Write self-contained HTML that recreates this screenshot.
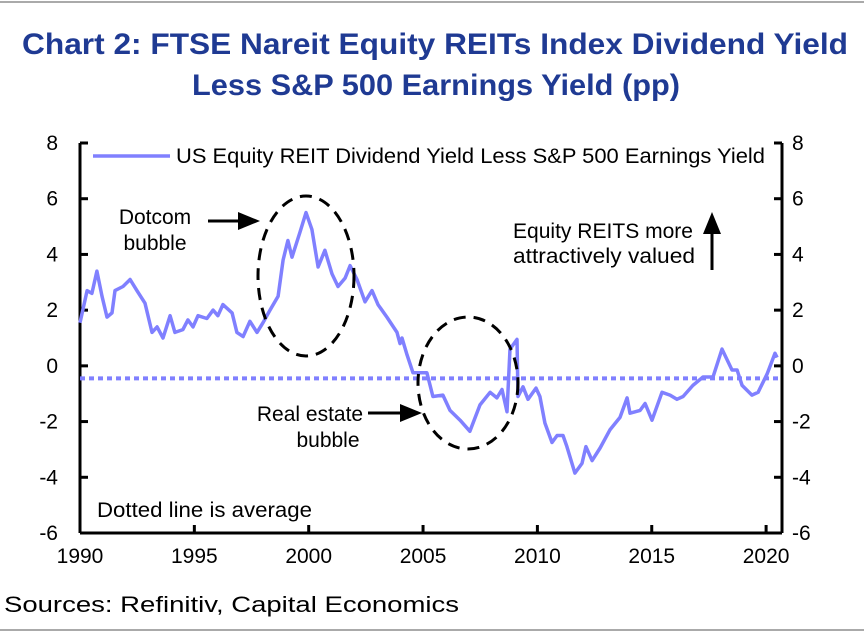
<!DOCTYPE html>
<html><head><meta charset="utf-8"><style>
body{margin:0;background:#fff;width:864px;height:637px;overflow:hidden;font-family:"Liberation Sans",sans-serif}
</style></head><body>
<svg width="864" height="637" xmlns="http://www.w3.org/2000/svg" font-family="Liberation Sans, sans-serif">
<line x1="0" y1="2" x2="864" y2="2" stroke="#aaa" stroke-width="2"/>
<text x="22" y="54" font-size="30" font-weight="bold" fill="#1f3a93" textLength="826" lengthAdjust="spacingAndGlyphs">Chart 2: FTSE Nareit Equity REITs Index Dividend Yield</text>
<text x="192" y="95" font-size="30" font-weight="bold" fill="#1f3a93" textLength="488" lengthAdjust="spacingAndGlyphs">Less S&amp;P 500 Earnings Yield (pp)</text>
<g id="axes"></g>
<g id="series"></g>
<g>
<ellipse cx="306" cy="276" rx="48" ry="80" fill="none" stroke="#000" stroke-width="3" stroke-dasharray="12,8"/>
<ellipse cx="468" cy="383" rx="50" ry="66" fill="none" stroke="#000" stroke-width="3" stroke-dasharray="12,8"/>
<text x="155" y="224" text-anchor="middle" font-size="21">Dotcom</text>
<text x="155" y="250" text-anchor="middle" font-size="21">bubble</text>
<line x1="208" y1="221" x2="240" y2="221" stroke="#000" stroke-width="3"/>
<polygon points="238,212 260,221 238,230" fill="#000"/>
<text x="310" y="421" text-anchor="middle" font-size="21">Real estate</text>
<text x="328" y="447" text-anchor="middle" font-size="21">bubble</text>
<line x1="368" y1="413" x2="402" y2="413" stroke="#000" stroke-width="3"/>
<polygon points="400,404 422,413 400,422" fill="#000"/>
<text x="513" y="238" font-size="21" textLength="180" lengthAdjust="spacingAndGlyphs">Equity REITS more</text>
<text x="513" y="263" font-size="21" textLength="182" lengthAdjust="spacingAndGlyphs">attractively valued</text>
<line x1="712" y1="232" x2="712" y2="270" stroke="#000" stroke-width="3"/>
<polygon points="703,234 712,212 721,234" fill="#000"/>
<text x="97" y="517" font-size="21" textLength="215" lengthAdjust="spacingAndGlyphs">Dotted line is average</text>
</g>
<g>
<line x1="93" y1="156" x2="170" y2="156" stroke="#8080ff" stroke-width="3.5"/>
<text x="176" y="163" font-size="21" textLength="589" lengthAdjust="spacingAndGlyphs">US Equity REIT Dividend Yield Less S&amp;P 500 Earnings Yield</text>
</g>
<text x="4" y="612" font-size="22" textLength="455" lengthAdjust="spacingAndGlyphs">Sources: Refinitiv, Capital Economics</text>
<line x1="0" y1="630" x2="864" y2="630" stroke="#aaa" stroke-width="2"/>
</svg>
<script>
const years=[1990.0,1990.31,1990.52,1990.74,1990.96,1991.18,1991.40,1991.53,1991.88,1992.19,1992.49,1992.84,1993.15,1993.37,1993.63,1993.94,1994.15,1994.50,1994.72,1994.94,1995.16,1995.55,1995.82,1996.03,1996.25,1996.65,1996.86,1997.13,1997.43,1997.74,1998.0,1998.31,1998.66,1998.88,1999.09,1999.27,1999.62,1999.88,2000.14,2000.41,2000.71,2001.02,2001.28,2001.59,2001.81,2002.11,2002.46,2002.77,2003.03,2003.42,2003.86,2003.99,2004.08,2004.30,2004.56,2005.0,2005.17,2005.43,2005.87,2006.18,2006.62,2007.05,2007.49,2007.93,2008.23,2008.45,2008.67,2008.80,2009.11,2009.15,2009.37,2009.59,2009.94,2010.11,2010.33,2010.64,2010.86,2011.12,2011.29,2011.64,2011.95,2012.12,2012.39,2012.74,2013.17,2013.61,2013.92,2014.05,2014.49,2014.71,2015.01,2015.45,2015.80,2016.10,2016.37,2016.80,2017.24,2017.68,2018.07,2018.51,2018.73,2018.95,2019.38,2019.65,2020.04,2020.39,2020.48];
const values=[1.55,2.7,2.6,3.4,2.5,1.75,1.9,2.7,2.85,3.1,2.7,2.25,1.2,1.4,1.0,1.8,1.2,1.3,1.65,1.4,1.8,1.7,2.0,1.8,2.2,1.9,1.2,1.05,1.6,1.2,1.55,2.0,2.5,3.8,4.5,3.9,4.8,5.5,4.9,3.55,4.15,3.3,2.85,3.15,3.6,3.1,2.3,2.7,2.2,1.75,1.2,0.8,1.0,0.4,-0.25,-0.25,-0.25,-1.1,-1.05,-1.6,-1.95,-2.35,-1.4,-0.95,-1.15,-0.85,-1.65,0.6,0.95,-1.1,-0.75,-1.2,-0.8,-1.1,-2.05,-2.75,-2.5,-2.5,-2.9,-3.85,-3.5,-2.9,-3.4,-2.95,-2.3,-1.85,-1.15,-1.7,-1.6,-1.35,-1.95,-0.95,-1.05,-1.2,-1.1,-0.7,-0.4,-0.4,0.6,-0.15,-0.15,-0.7,-1.05,-0.95,-0.3,0.45,0.3];
const average=[-0.45];
const yTicks=[8,6,4,2,0,-2,-4,-6];
const xTicks=[1990,1995,2000,2005,2010,2015,2020];
const NS='http://www.w3.org/2000/svg';
const X0=80,X1=782,Y0=533,Y1=143;
function xs(t){return X0+(t-1990)*22.87;}
function ys(v){return Y0-(v+6)*(Y0-Y1)/14;}
function mk(tag,attrs,parent){const e=document.createElementNS(NS,tag);for(const k in attrs)e.setAttribute(k,attrs[k]);parent.appendChild(e);return e;}
const ax=document.getElementById('axes');
let e=mk('line',{x1:X0,y1:Y1,x2:X0,y2:Y0,stroke:'#000','stroke-width':3},ax);


e=mk('line',{x1:X1,y1:Y1,x2:X1,y2:Y0,stroke:'#000','stroke-width':3},ax);


e=mk('line',{x1:X0,y1:Y0,x2:X1,y2:Y0,stroke:'#000','stroke-width':3},ax);


yTicks.forEach(v=>{const y=ys(v);
 mk('line',{x1:X0,y1:y,x2:X0+8,y2:y,stroke:'#000','stroke-width':3},ax);
 mk('line',{x1:X1-8,y1:y,x2:X1,y2:y,stroke:'#000','stroke-width':3},ax);
 let t=mk('text',{x:X0-22,y:y+7,'text-anchor':'end','font-size':21},ax);t.textContent=v;
 
 
 t=mk('text',{x:X1+10,y:y+7,'font-size':21},ax);t.textContent=v;
 
 
});
xTicks.forEach(v=>{const x=xs(v);
 mk('line',{x1:x,y1:Y0,x2:x,y2:Y0-8,stroke:'#000','stroke-width':3},ax);
 const t=mk('text',{x:x,y:Y0+30,'text-anchor':'middle','font-size':21},ax);t.textContent=v;
 
 
});
const sg=document.getElementById('series');
e=mk('line',{x1:X0,y1:ys(average[0]),x2:X1,y2:ys(average[0]),stroke:'#8080ff','stroke-width':4,'stroke-dasharray':'5,4'},sg);


e=mk('polyline',{points:years.map((t,i)=>xs(t).toFixed(1)+','+ys(values[i]).toFixed(1)).join(' '),fill:'none',stroke:'#8080ff','stroke-width':3.5,'stroke-linejoin':'round'},sg);


</script>
</body></html>
